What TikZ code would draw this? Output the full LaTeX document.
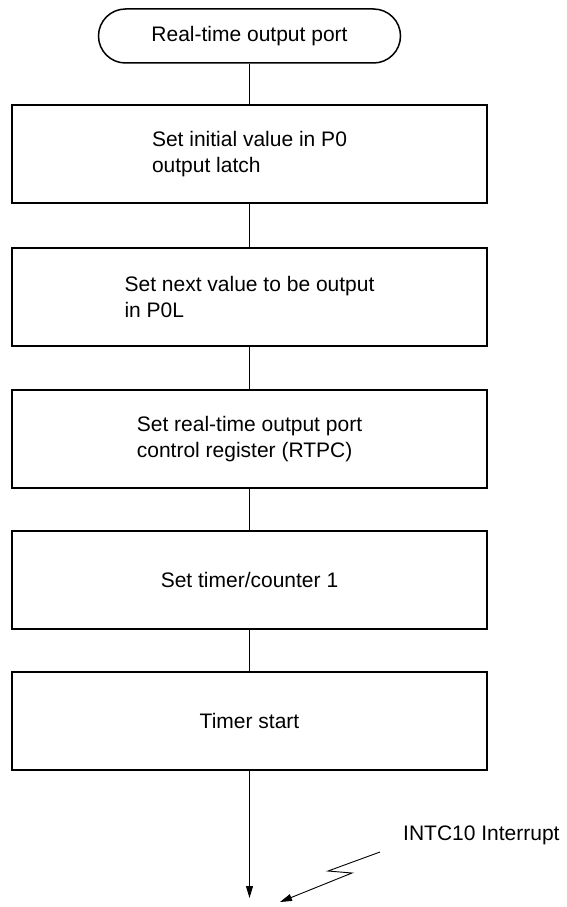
\documentclass[tikz,border=0pt]{standalone}
\usepackage{fontspec}
\setmainfont{Liberation Sans}
\usetikzlibrary{arrows.meta}
\begin{document}
\begin{tikzpicture}[x=1pt,y=-1pt,
  every node/.style={font=\fontsize{21}{26.5}\selectfont, inner sep=0pt},
  term/.style={draw, line width=1.5pt, rounded corners=27pt, minimum width=302pt, minimum height=54pt},
  procbox/.style={draw, line width=2pt, minimum width=475pt, minimum height=98pt, align=left},
  conn/.style={line width=0.9pt},
  arr/.style={line width=0.9pt, -{Triangle[length=12pt,width=7pt]}}
]
\useasboundingbox (0,0) rectangle (566,907);
\node[term] (start) at (249.5,36) {Real-time output port};
\node[procbox] (b1) at (249.5,154) {Set initial value in P0\\output latch};
\node[procbox] (b2) at (249.5,297) {Set next value to be output\\in P0L};
\node[procbox] (b3) at (249.5,439) {Set real-time output port\\control register (RTPC)};
\node[procbox] (b4) at (249.5,580) {Set timer/counter 1};
\node[procbox] (b5) at (249.5,720.5) {Timer start};
\coordinate (endpt) at (249.5,898);
\draw[conn] (start) -- (b1);
\draw[conn] (b1) -- (b2);
\draw[conn] (b2) -- (b3);
\draw[conn] (b3) -- (b4);
\draw[conn] (b4) -- (b5);
\draw[arr] (b5) -- (endpt);
\node[anchor=west] (intlbl) at (403,835) {INTC10 Interrupt};
\coordinate (z0) at (380,852);
\coordinate (z1) at (328,871);
\coordinate (z2) at (352,873);
\coordinate (z3) at (280,902);
\draw[arr] (z0) -- (z1) -- (z2) -- (z3);
\end{tikzpicture}
\end{document}
